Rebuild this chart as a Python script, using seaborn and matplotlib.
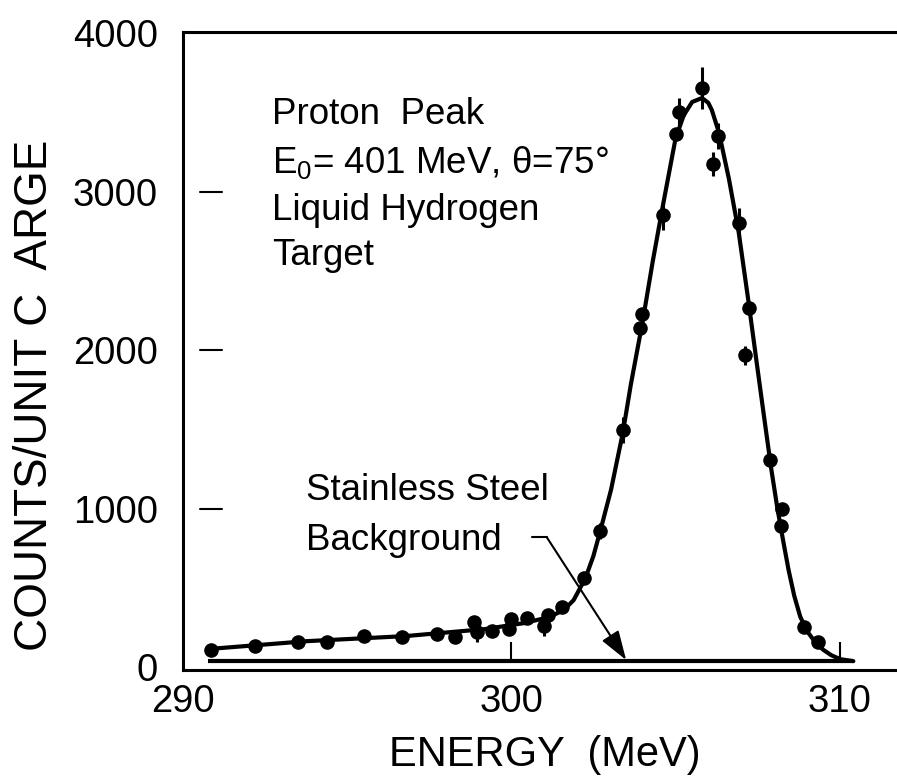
import matplotlib
matplotlib.use("Agg")
import matplotlib.pyplot as plt
import seaborn as sns
import pandas as pd

# ---------------- Data ----------------
energy_pts = [290.84, 292.20, 293.49, 294.40, 295.51, 296.66, 297.74, 298.28,
              298.86, 298.95, 299.40, 299.94, 300.00, 300.48, 300.99, 301.11,
              301.54, 302.23, 302.71, 303.40, 303.92, 303.98, 304.61, 305.03,
              305.12, 305.81, 306.14, 306.30, 306.93, 307.11, 307.23, 307.89,
              308.22, 308.25, 308.92, 309.34]
counts_pts = [107, 132, 158, 158, 196, 189, 212, 189,
              284, 221, 227, 240, 303, 309, 259, 328,
              379, 562, 858, 1495, 2139, 2227, 2852, 3363,
              3502, 3653, 3174, 3350, 2801, 1968, 2265, 1306,
              890, 997, 252, 158]
counts_err = [0, 0, 0, 0, 0, 0, 0, 0,
              0, 60, 0, 0, 0, 0, 60, 0,
              0, 0, 50, 80, 0, 0, 95, 0,
              90, 130, 75, 80, 95, 60, 0, 40,
              0, 0, 0, 0]

fit_energy = [290.75, 293.77, 296.78, 299.19, 300.39, 301.14, 301.60, 301.90,
              302.26, 302.50, 302.71, 303.04, 303.40, 303.64, 304.01, 304.31,
              304.61, 305.00, 305.25, 305.51, 305.81, 306.00, 306.11, 306.33,
              306.63, 306.93, 307.23, 307.47, 307.70, 307.92, 308.10, 308.28,
              308.45, 308.62, 308.80, 309.00, 309.25, 309.50, 309.75, 310.03,
              310.42]
fit_counts = [114, 164, 196, 240, 278, 315, 360, 423,
              562, 700, 858, 1120, 1480, 1780, 2190, 2560,
              2902, 3330, 3480, 3565, 3590, 3560, 3514, 3369,
              3080, 2740, 2300, 1930, 1580, 1250, 1010, 800,
              610, 450, 320, 230, 160, 110, 75, 50,
              38]

bg_level = 38
bg_range = [290.75, 310.42]
x_ticks = [290, 300, 310]
y_ticks = [0, 1000, 2000, 3000, 4000]
y_marks = [1000, 2000, 3000]
x_marks = [300, 310]

pts = pd.DataFrame({"energy": energy_pts, "counts": counts_pts, "err": counts_err})
fit = pd.DataFrame({"energy": fit_energy, "counts": fit_counts})

# ---------------- Style ----------------
sns.set_style("white")
plt.rcParams["font.family"] = ["Liberation Sans", "DejaVu Sans"]
plt.rcParams["mathtext.default"] = "regular"
plt.rcParams["text.color"] = "black"
plt.rcParams["xtick.color"] = "black"
plt.rcParams["ytick.color"] = "black"

fig = plt.figure(figsize=(8.97, 7.82), dpi=100)
ax = fig.add_axes([0.204, 0.143, 0.796, 0.816])

# fitted curve + data points
sns.lineplot(data=fit, x="energy", y="counts", color="black", lw=3, ax=ax)
err = pts[pts["err"] > 0]
ax.errorbar(err["energy"], err["counts"], yerr=err["err"], fmt="none",
            ecolor="black", elinewidth=2.2, capsize=0)
sns.scatterplot(data=pts, x="energy", y="counts", color="black", s=110,
                edgecolor="black", linewidth=0, ax=ax, zorder=5)

# stainless steel background line and tick marks drawn on it
ax.hlines(bg_level, bg_range[0], bg_range[1], color="black", lw=3)
ax.vlines(x_marks, bg_level, 158, color="black", lw=1.5)
for v in y_marks:
    ax.plot([0.024, 0.055], [v, v], color="black", lw=1.5,
            transform=ax.get_yaxis_transform())

# axes
ax.set_xlim(290.24, 311.75)
ax.set_ylim(-19, 4006)
ax.set_xticks(x_ticks)
ax.set_yticks(y_ticks)
ax.tick_params(axis="x", length=0, pad=10, labelsize=27.5)
ax.tick_params(axis="y", length=0, pad=18, labelsize=27.5)
ax.set_xlabel("")
ax.set_ylabel("")
for side in ["left", "top", "bottom"]:
    ax.spines[side].set_linewidth(2.2)
    ax.spines[side].set_color("black")
ax.spines["right"].set_visible(False)

ax.text(-0.207, 0.43, "COUNTS/UNIT C  ARGE", transform=ax.transAxes,
        rotation=90, ha="center", va="center", fontsize=33)
fig.text(545 / 897, 1 - 755 / 782, "ENERGY  (MeV)", ha="center", va="center",
         fontsize=30)

# annotations
label_kw = dict(ha="left", va="center", fontsize=26.5)
ax.text(292.71, 3483, "Proton  Peak", **label_kw)
ax.text(292.71, 3186, "E$_0$= 401 MeV, θ=75°", **label_kw)
ax.text(292.71, 2883, "Liquid Hydrogen", **label_kw)
ax.text(292.71, 2599, "Target", **label_kw)
ax.text(293.74, 1117, "Stainless Steel", **label_kw)
ax.text(293.74, 801, "Background", **label_kw)

ax.plot([300.62, 301.08], [820, 820], color="black", lw=1.5)
ax.annotate("", xy=(303.5, 45), xytext=(301.08, 820),
            arrowprops=dict(arrowstyle="-|>,head_length=0.9,head_width=0.3",
                            mutation_scale=20, color="black", lw=1.5,
                            shrinkA=0, shrinkB=0))

fig.savefig("out.png", dpi=100)
